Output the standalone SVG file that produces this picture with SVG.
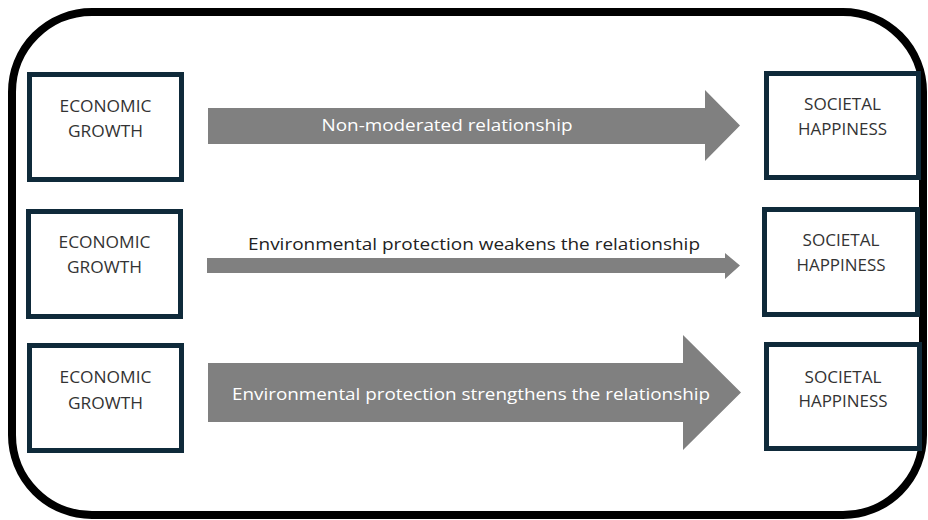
<svg xmlns="http://www.w3.org/2000/svg" width="928" height="520" viewBox="0 0 928 520">
<style>
.frame{fill:#fff;stroke:#000;stroke-width:8}
.box{fill:#fff;stroke:#0f2a3a;stroke-width:5}
.bt{font-family:"Open Sans","Liberation Sans",sans-serif;font-size:16.5px;fill:#333;text-anchor:middle}
.arrow{fill:#808080}
.lw{font-family:"Open Sans","Liberation Sans",sans-serif;font-size:16px;fill:#fff;text-anchor:middle}
.ld{font-family:"Open Sans","Liberation Sans",sans-serif;font-size:16px;fill:#222;text-anchor:middle}
</style>
<rect class="frame" x="12" y="12" width="911" height="503" rx="80" ry="80"/>
<g id="connectors">
  <g id="arrow1">
    <polygon class="arrow" points="208,108 705,108 705,90 740,125.5 705,161 705,144 208,144"/>
    <text class="lw" x="447" y="131" textLength="251" lengthAdjust="spacingAndGlyphs">Non-moderated relationship</text>
  </g>
  <g id="arrow2">
    <polygon class="arrow" points="207,258 725,258 725,253 740,265.5 725,279 725,273 207,273"/>
    <text class="ld" x="474" y="250" textLength="452" lengthAdjust="spacingAndGlyphs">Environmental protection weakens the relationship</text>
  </g>
  <g id="arrow3">
    <polygon class="arrow" points="208,363 683,363 683,335 741,392.5 683,450 683,422 208,422"/>
    <text class="lw" x="471" y="400" textLength="478" lengthAdjust="spacingAndGlyphs">Environmental protection strengthens the relationship</text>
  </g>
</g>
<g id="eg1">
  <rect class="box" x="29.5" y="74.5" width="152" height="105"/>
  <text class="bt" x="105.5" y="112" textLength="92" lengthAdjust="spacingAndGlyphs">ECONOMIC</text>
  <text class="bt" x="105.5" y="137" textLength="75" lengthAdjust="spacingAndGlyphs">GROWTH</text>
</g>
<g id="eg2">
  <rect class="box" x="28.5" y="211.5" width="152" height="105"/>
  <text class="bt" x="104.5" y="248" textLength="92" lengthAdjust="spacingAndGlyphs">ECONOMIC</text>
  <text class="bt" x="104.5" y="273" textLength="75" lengthAdjust="spacingAndGlyphs">GROWTH</text>
</g>
<g id="eg3">
  <rect class="box" x="29.5" y="345.5" width="152" height="105"/>
  <text class="bt" x="105.5" y="383" textLength="92" lengthAdjust="spacingAndGlyphs">ECONOMIC</text>
  <text class="bt" x="105.5" y="409" textLength="75" lengthAdjust="spacingAndGlyphs">GROWTH</text>
</g>
<g id="sh1">
  <rect class="box" x="766.5" y="73.5" width="152" height="104"/>
  <text class="bt" x="842.5" y="110" textLength="77" lengthAdjust="spacingAndGlyphs">SOCIETAL</text>
  <text class="bt" x="842.5" y="135" textLength="89" lengthAdjust="spacingAndGlyphs">HAPPINESS</text>
</g>
<g id="sh2">
  <rect class="box" x="764.5" y="209.5" width="153" height="105"/>
  <text class="bt" x="841" y="246" textLength="77" lengthAdjust="spacingAndGlyphs">SOCIETAL</text>
  <text class="bt" x="841" y="271" textLength="89" lengthAdjust="spacingAndGlyphs">HAPPINESS</text>
</g>
<g id="sh3">
  <rect class="box" x="766.5" y="344.5" width="153" height="104"/>
  <text class="bt" x="843" y="383" textLength="77" lengthAdjust="spacingAndGlyphs">SOCIETAL</text>
  <text class="bt" x="843" y="407" textLength="89" lengthAdjust="spacingAndGlyphs">HAPPINESS</text>
</g>
</svg>
